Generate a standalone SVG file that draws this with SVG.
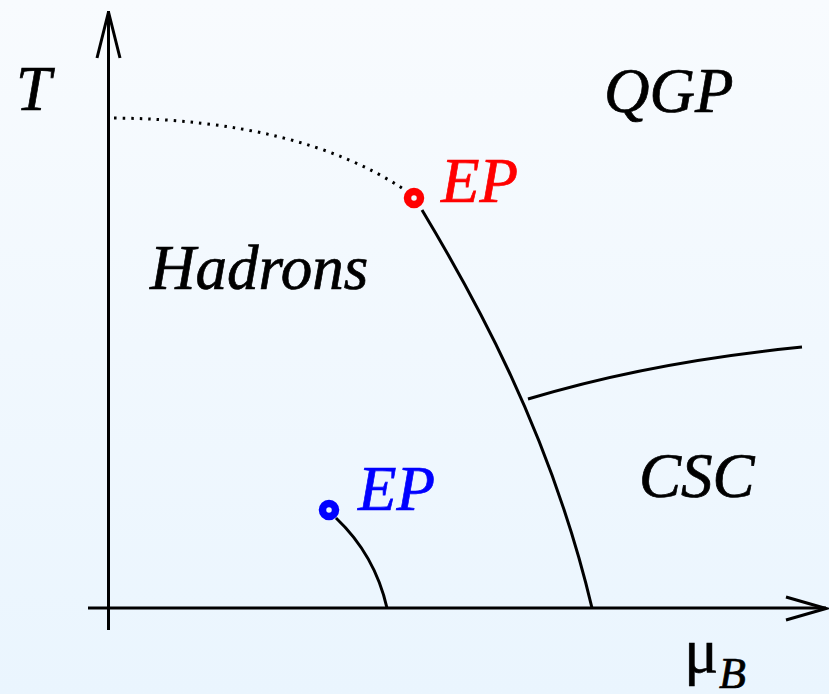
<svg xmlns="http://www.w3.org/2000/svg" width="829" height="694" viewBox="0 0 829 694">
<defs>
<linearGradient id="bg" x1="0" y1="0" x2="0" y2="1">
<stop offset="0" stop-color="#f8fbfe"/>
<stop offset="1" stop-color="#eaf5fe"/>
</linearGradient>
</defs>
<style>
.ax{fill:none;stroke:#000;stroke-width:3}
.ln{fill:none;stroke:#000;stroke-width:3;stroke-linecap:butt}
.t{font-family:"Liberation Serif",serif;font-style:italic;font-size:63px;fill:#000;stroke:#000;stroke-width:0.7}
</style>
<rect width="829" height="694" fill="url(#bg)"/>
<g id="axes" class="connectors">
<path class="ax" d="M108.5,630 V11"/>
<path class="ax" d="M97,58 L108.5,12 L120,58"/>
<path class="ax" d="M88,608 H826"/>
<path class="ax" d="M786,597 L826,608.5 L786,620"/>
</g>
<g id="lines" class="connectors">
<path d="M114,118 Q300,120 405,190" fill="none" stroke="#000" stroke-width="3" stroke-dasharray="2.5 6"/>
<path class="ln" d="M422,210 C470,290 550,430 592,608"/>
<path class="ln" d="M528,399 Q650,362 802,347"/>
<path class="ln" d="M336,518 Q375,555 387,608"/>
</g>
<g id="ep-red">
<circle cx="414" cy="198" r="6.5" fill="none" stroke="#f00" stroke-width="7.5"/>
<text class="t" x="441" y="202" style="fill:#f00;stroke:#f00">EP</text>
</g>
<g id="ep-blue">
<circle cx="329" cy="510" r="6.5" fill="none" stroke="#00f" stroke-width="7.5"/>
<text class="t" x="358" y="510" style="fill:#00f;stroke:#00f">EP</text>
</g>
<g id="label-T"><text class="t" x="16" y="110">T</text></g>
<g id="label-QGP"><text class="t" x="604" y="112">QGP</text></g>
<g id="label-Hadrons"><text class="t" x="150" y="289">Hadrons</text></g>
<g id="label-CSC"><text class="t" x="639" y="497">CSC</text></g>
<g id="label-muB"><text x="684" y="672" font-family="'Liberation Serif',serif" font-size="64" stroke="#000" stroke-width="0.5">μ</text><text class="t" x="719" y="688" style="font-size:44px">B</text></g>
</svg>
